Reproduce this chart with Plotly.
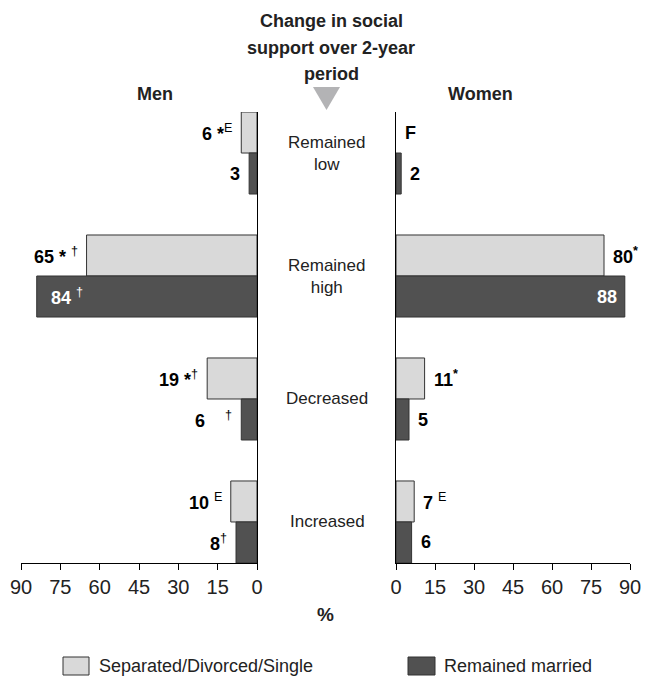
import plotly.graph_objects as go

# ---- data ----
categories = ["Remained<br>low", "Remained<br>high", "Decreased", "Increased"]
men_single = [6, 65, 19, 10]
men_married = [3, 84, 6, 8]
women_single = [None, 80, 11, 7]
women_married = [2, 88, 5, 6]
men_single_labels = ["<b>6 *</b><sup>E</sup>", "<b>65 *</b> <sup>†</sup>",
                     "<b>19 *</b><sup>†</sup>", "<b>10</b> <sup>E</sup>"]
men_married_labels = ["<b>3</b>", "<b>84</b> <sup>†</sup>", "<b>6</b>    <sup>†</sup>",
                      "<b>8</b><sup>†</sup>"]
women_single_labels = ["<b>F</b>", "<b>80</b><sup><b>*</b></sup>", "<b>11</b><sup><b>*</b></sup>",
                       "<b>7</b> <sup>E</sup>"]
women_married_labels = ["<b>2</b>", "<b>88</b>", "<b>5</b>", "<b>6</b>"]
x_ticks = [0, 15, 30, 45, 60, 75, 90]
series_names = ["Separated/Divorced/Single", "Remained married"]
title_lines = ["Change in social", "support over 2-year", "period"]

# ---- styles ----
FONT = "Liberation Sans, Arial, sans-serif"
LIGHT = "#d9d9d9"
DARK = "#515151"
EDGE = "#333333"
TXT = "#222222"
W, H = 655, 677

ypos = list(range(len(categories)))
BARGAP = 0.333
half = (1 - BARGAP) / 4  # centre offset of each bar within a group

fig = go.Figure()
for vals, name, col in [(men_single, series_names[0], LIGHT),
                        (men_married, series_names[1], DARK)]:
    fig.add_trace(go.Bar(x=vals, y=ypos, orientation="h", name=name, xaxis="x", yaxis="y",
                         marker=dict(color=col, line=dict(color=EDGE, width=1)),
                         showlegend=False, hoverinfo="x+name"))
for vals, name, col in [(women_single, series_names[0], LIGHT),
                        (women_married, series_names[1], DARK)]:
    fig.add_trace(go.Bar(x=vals, y=ypos, orientation="h", name=name, xaxis="x2", yaxis="y2",
                         marker=dict(color=col, line=dict(color=EDGE, width=1)),
                         showlegend=False, hoverinfo="x+name"))

ann = []


def add_labels(vals, labels, side, off, xref, yref):
    for i, (v, t) in enumerate(zip(vals, labels)):
        val = v if v is not None else 0
        inside = val > 80
        col = "white" if inside else "black"
        if side == "men":
            xa, xs = ("left", 12) if inside else ("right", -7)
        else:
            xa, xs = ("right", -6) if inside else ("left", 7)
        ann.append(dict(x=val, y=i + off, xref=xref, yref=yref, text=t,
                        showarrow=False, xanchor=xa, yanchor="middle", xshift=xs,
                        font=dict(family=FONT, size=18, color=col)))


add_labels(men_single, men_single_labels, "men", -half, "x", "y")
add_labels(men_married, men_married_labels, "men", half, "x", "y")
add_labels(women_single, women_single_labels, "women", -half, "x2", "y2")
add_labels(women_married, women_married_labels, "women", half, "x2", "y2")

for i, c in enumerate(categories):
    ann.append(dict(x=327 / W, y=i, xref="paper", yref="y", text=c, showarrow=False,
                    xanchor="center", yanchor="middle",
                    font=dict(family=FONT, size=17, color=TXT)))

for k, line in enumerate(title_lines):
    ann.append(dict(x=331 / W, y=1 - (21 + 26.5 * k) / H, xref="paper", yref="paper",
                    xanchor="center", yanchor="middle", text="<b>" + line + "</b>",
                    showarrow=False, font=dict(family=FONT, size=18, color=TXT)))

ann += [
    dict(x=135 / W, y=1 - 94 / H, xref="paper", yref="paper", text="<b>Men</b>", showarrow=False,
         yanchor="middle", font=dict(family=FONT, size=18, color=TXT)),
    dict(x=515 / W, y=1 - 94 / H, xref="paper", yref="paper", text="<b>Women</b>", showarrow=False,
         yanchor="middle", font=dict(family=FONT, size=18, color=TXT)),
    dict(x=325 / W, y=1 - 614 / H, xref="paper", yref="paper", text="<b>%</b>", showarrow=False,
         yanchor="middle", font=dict(family=FONT, size=19, color=TXT)),
    # legend texts
    dict(x=97 / W, y=1 - 666 / H, xref="paper", yref="paper", text=series_names[0],
         showarrow=False, xanchor="left", yanchor="middle",
         font=dict(family=FONT, size=18, color=TXT)),
    dict(x=442 / W, y=1 - 666 / H, xref="paper", yref="paper", text=series_names[1],
         showarrow=False, xanchor="left", yanchor="middle",
         font=dict(family=FONT, size=18, color=TXT)),
]

ydom = [1 - 563 / H, 1 - 112 / H]
yrange = [len(categories) - 0.5 - BARGAP / 2, -0.5 + BARGAP / 2]
xax = dict(tickvals=x_ticks, ticks="outside", ticklen=6, tickcolor="black", showline=True,
           linecolor="black", linewidth=1, showgrid=False, zeroline=False, automargin=False,
           tickfont=dict(family=FONT, size=20, color=TXT), fixedrange=True)
yax = dict(range=yrange, showticklabels=False, ticks="", showgrid=False, zeroline=False,
           showline=True, linecolor="black", linewidth=1, fixedrange=True, automargin=False)


def pbox(x0, y0, x1, y1, fill):
    return dict(type="rect", xref="paper", yref="paper", x0=x0 / W, x1=x1 / W,
                y0=1 - y1 / H, y1=1 - y0 / H, fillcolor=fill, line=dict(color=EDGE, width=1))


fig.update_layout(
    width=W, height=H, margin=dict(l=0, r=0, t=0, b=0, autoexpand=False),
    paper_bgcolor="white", plot_bgcolor="rgba(0,0,0,0)",
    barmode="group", bargap=BARGAP, bargroupgap=0,
    xaxis=dict(xax, domain=[21 / W, 257 / W], range=[90, 0], anchor="y"),
    yaxis=dict(yax, domain=ydom, side="right", anchor="x"),
    xaxis2=dict(xax, domain=[396 / W, 630 / W], range=[0, 90], anchor="y2"),
    yaxis2=dict(yax, domain=ydom, side="left", anchor="x2"),
    annotations=ann,
    shapes=[
        dict(type="path", xref="paper", yref="paper",
             path=f"M {313/W} {1-87/H} L {340/W} {1-87/H} L {326.5/W} {1-110/H} Z",
             fillcolor="#b3b3b5", line=dict(width=0)),
        pbox(63, 657, 89, 675, LIGHT),
        pbox(408, 657, 435, 675, DARK),
    ],
    showlegend=False,
)

fig.write_html("out.html", config={"displayModeBar": False},
               post_script="document.body.style.margin='0';document.body.style.overflow='hidden';")
